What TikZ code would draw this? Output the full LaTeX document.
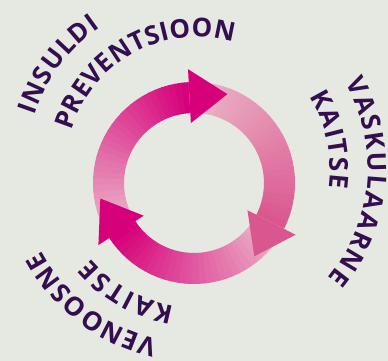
\documentclass[tikz,border=0pt]{standalone}
\usepackage{fontspec}
\newfontfamily\cyclefont{Open Sans}
\definecolor{backgray}{RGB}{230,233,225}
\definecolor{cyclemag}{RGB}{214,0,122}
\definecolor{cyclerose}{RGB}{218,86,142}
\definecolor{cyclepink}{RGB}{236,184,201}
\definecolor{textpurple}{RGB}{52,14,80}
\usetikzlibrary{calc, decorations.text}

\begin{document}
\begin{tikzpicture}[x=1pt, y=1pt,
    ringtext/.style={decorate, decoration={text along path, text align=fit to path,
                     text color=textpurple,
                     text={|\cyclefont\bfseries\fontsize{26}{26}\selectfont|#1}}}
  ]

  % Background
  \fill[backgray] (-194,-178) rectangle (194,183);
  \useasboundingbox (-194,-178) rectangle (194,183);

  % Ring segments, light at the tail, dark at the head
  \foreach \head/\col in {93/cyclemag, -27/cyclerose, 213/cyclemag} {
    \foreach \i in {0,...,29} {
      \pgfmathsetmacro{\a}{\head+120-4*\i}
      \pgfmathtruncatemacro{\p}{100*\i/29}
      \fill[\col!\p!cyclepink] (\a:70) arc[start angle=\a, end angle=\a-4.4, radius=70]
        -- (\a-4.4:101) arc[start angle=\a-4.4, end angle=\a, radius=101] -- cycle;
    }
  }

  % Arrow heads
  \foreach \head/\col in {93/cyclemag, -27/cyclerose, 213/cyclemag}
    \fill[\col] (\head:60) -- (\head:114) -- ($(\head:87)+(\head-90:38)$) -- cycle;

  % Labels round the ring
  \begin{scope}[shift={(3,15)}]
    \path[ringtext=INSULDI] (162:171) arc[start angle=162, end angle=124.5, radius=171];
    \path[ringtext=PREVENTSIOON] (163.5:131) arc[start angle=163.5, end angle=74, radius=131];
    \path[ringtext=VASKULAARNE] (30:171) arc[start angle=30, end angle=-40, radius=171];
    \path[ringtext=KAITSE] (32.5:133) arc[start angle=32.5, end angle=-8.5, radius=133];
    \path[ringtext=VENOOSNE] (257:176) arc[start angle=257, end angle=208, radius=176];
    \path[ringtext=KAITSE] (260.5:140) arc[start angle=260.5, end angle=220.5, radius=140];
  \end{scope}

\end{tikzpicture}
\end{document}
